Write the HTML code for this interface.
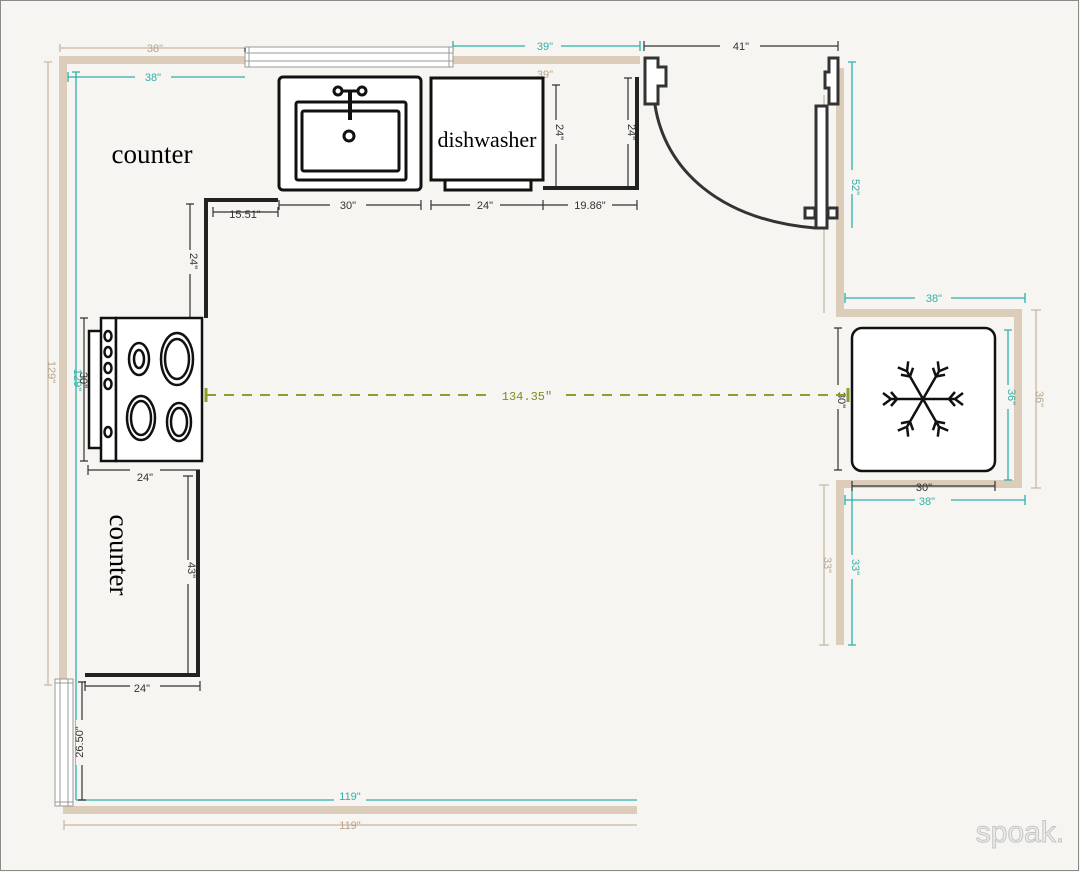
<!DOCTYPE html><html><head><style>body{margin:0;background:#f6f5f1}svg{display:block}text{font-family:"Liberation Sans",sans-serif}</style></head><body>
<svg width="1080" height="872" viewBox="0 0 1080 872">
<rect width="1080" height="872" fill="#f6f5f1"/>
<rect x="0.5" y="0.5" width="1078" height="870" fill="none" stroke="#8a8a8a"/>
<g stroke="#dccdbb" stroke-width="8" fill="none">
<path d="M640 60H63V680"/><path d="M63 810H637"/>
<path d="M840 68V313H1018V484H840V645"/>
</g>
<!-- beige dims -->
<g stroke="#c9b8a4" stroke-width="1.3" fill="none">
<path d="M60 48H245M60 44v8M48 62V685M44 62h8M44 685h8M64 825H637M64 820v10M824 95V313M1036 310V488M1031 310h10M1031 488h10M824 485V645M819 485h10M819 645h10"/>
</g>
<g fill="#b9a48c" font-size="11" text-anchor="middle">
<text x="155" y="52">38"</text><text x="350" y="829">119"</text>
<text transform="translate(48,372) rotate(90)">129"</text>
<text transform="translate(1036,399) rotate(90)">36"</text>
<text transform="translate(824,565) rotate(90)">33"</text>
<text x="545" y="78">39"</text>
</g>
<!-- teal dims -->
<g stroke="#2fb0ab" stroke-width="1.3" fill="none">
<path d="M68 77H245M68 72v10M76 72V800M72 72h8M76 800H637M453 46H640M453 41v10M640 41v10M852 62V228M848 62h8M845 298H1025M845 293v10M1025 293v10M1008 330V480M1004 330h8M1004 480h8M845 500H1025M845 495v10M1025 495v10M852 490V645M848 645h8"/>
</g>
<g fill="#2fb0ab" font-size="11" text-anchor="middle">
<rect x="135" y="70" width="36" height="12" fill="#f6f5f1"/><text x="153" y="81">38"</text>
<rect x="525" y="40" width="36" height="12" fill="#f6f5f1"/><text x="545" y="50">39"</text>
<rect x="334" y="793" width="32" height="12" fill="#f6f5f1"/><text x="350" y="800">119"</text>
<rect x="915" y="292" width="36" height="12" fill="#f6f5f1"/><text x="934" y="302">38"</text>
<rect x="915" y="494" width="36" height="12" fill="#f6f5f1"/><text x="927" y="505">38"</text>
<rect x="846" y="170" width="12" height="24" fill="#f6f5f1"/><text transform="translate(852,187) rotate(90)">52"</text>
<rect x="1002" y="385" width="12" height="24" fill="#f6f5f1"/><text transform="translate(1008,397) rotate(90)">36"</text>
<rect x="846" y="555" width="12" height="24" fill="#f6f5f1"/><text transform="translate(852,567) rotate(90)">33"</text>
<text transform="translate(74,380) rotate(90)">129"</text>
</g>
<!-- windows -->
<g fill="#fff" stroke="#999" stroke-width="1">
<rect x="245" y="47" width="208" height="20"/><path d="M245 53H453M245 61H453M249 47V67M449 47V67" fill="none"/>
<rect x="55" y="679" width="18" height="127"/><path d="M60 679V806M68 679V806M55 683H73M55 802H73" fill="none"/>
</g>
<!-- dark dims -->
<g stroke="#333" stroke-width="1.2" fill="none">
<path d="M245 48V52M279 205H421M279 200v10M421 200v10M431 205H543M431 200v10M543 205H637M637 200v10M543 200v10M213 212H278M213 207v10M278 207v10M190 204V318M186 204h8M556 85V188M552 85h8M628 78V188M624 78h8M644 46H838M644 41v10M838 41v10M88 470H200M88 465v10M188 476V675M183 476h10M85 686H200M85 681v10M200 681v10M82 682V800M78 682h8M78 800h8M84 318V461M80 318h8M80 461h8M838 328V470M834 328h8M834 470h8M852 486H995M852 481v10M995 481v10"/>
</g>
<g fill="#333" font-size="11" text-anchor="middle">
<rect x="330" y="198" width="36" height="12" fill="#f6f5f1"/><text x="348" y="209">30"</text>
<rect x="470" y="198" width="30" height="12" fill="#f6f5f1"/><text x="485" y="209">24"</text>
<rect x="568" y="198" width="44" height="12" fill="#f6f5f1"/><text x="590" y="209">19.86"</text>
<text x="245" y="218">15.51"</text>
<rect x="720" y="40" width="40" height="12" fill="#f6f5f1"/><text x="741" y="50">41"</text>
<rect x="130" y="464" width="30" height="12" fill="#f6f5f1"/><text x="145" y="481">24"</text>
<rect x="130" y="680" width="30" height="12" fill="#f6f5f1"/><text x="142" y="692">24"</text>
<rect x="184" y="250" width="12" height="24" fill="#f6f5f1"/><text transform="translate(190,261) rotate(90)">24"</text>
<rect x="550" y="120" width="12" height="24" fill="#f6f5f1"/><text transform="translate(556,132) rotate(90)">24"</text>
<rect x="622" y="120" width="12" height="24" fill="#f6f5f1"/><text transform="translate(628,132) rotate(90)">24"</text>
<rect x="182" y="560" width="12" height="24" fill="#f6f5f1"/><text transform="translate(188,570) rotate(90)">43"</text>
<rect x="76" y="720" width="12" height="45" fill="#f6f5f1"/><text transform="translate(83,742) rotate(-90)">26.50"</text>
<text transform="translate(80,380) rotate(90)">30"</text>
<rect x="832" y="385" width="12" height="24" fill="#f6f5f1"/><text transform="translate(838,400) rotate(90)">30"</text>
<text x="924" y="491">30"</text>
</g>
<!-- counters -->
<g stroke="#222" stroke-width="4" fill="none">
<path d="M278 200H206V318"/><path d="M543 188H637V77"/>
<path d="M198 470V675H85"/>
</g>
<!-- sink -->
<g stroke="#111" stroke-width="3" fill="#fff">
<rect x="279" y="77" width="142" height="113" rx="4"/>
<rect x="296" y="102" width="110" height="78" rx="2"/>
<rect x="302" y="111" width="97" height="60" rx="2"/>
<path d="M350 90V120" fill="none" stroke-width="4"/>
<circle cx="338" cy="91" r="4"/><circle cx="362" cy="91" r="4"/><path d="M342 91H358"/>
<circle cx="349" cy="136" r="5"/>
</g>
<!-- dishwasher -->
<g stroke="#111" stroke-width="3" fill="#fff">
<rect x="431" y="78" width="112" height="102"/><rect x="445" y="180" width="86" height="10"/>
</g>
<text x="487" y="147" font-family="Liberation Serif,serif" font-size="22" text-anchor="middle" style="font-family:'Liberation Serif',serif">dishwasher</text>
<text x="152" y="163" font-size="27" text-anchor="middle" style="font-family:'Liberation Serif',serif">counter</text>
<text transform="translate(110,555) rotate(90)" font-size="27" text-anchor="middle" style="font-family:'Liberation Serif',serif">counter</text>
<!-- door -->
<g stroke="#333" stroke-width="3" fill="#fff">
<path d="M645 58H658V67H666V86H658V104H645Z"/>
<path d="M838 58H829V72H825V88H829V104H838Z"/>
<rect x="816" y="106" width="11" height="122"/>
<rect x="805" y="208" width="10" height="10"/><rect x="828" y="208" width="9" height="10"/>
<path d="M655 105C665 170 720 220 815 228" fill="none"/>
</g>
<!-- stove -->
<g stroke="#111" stroke-width="2.5" fill="#fff">
<rect x="89" y="331" width="13" height="117"/>
<rect x="101" y="318" width="15" height="143"/>
<rect x="116" y="318" width="86" height="143"/>
<g fill="none"><ellipse cx="108" cy="336" rx="3.5" ry="5"/><ellipse cx="108" cy="352" rx="3.5" ry="5"/><ellipse cx="108" cy="368" rx="3.5" ry="5"/><ellipse cx="108" cy="384" rx="3.5" ry="5"/><ellipse cx="108" cy="432" rx="3.5" ry="5"/>
<ellipse cx="139" cy="359" rx="10" ry="16"/><ellipse cx="139" cy="359" rx="5" ry="9"/>
<ellipse cx="177" cy="359" rx="16" ry="26"/><ellipse cx="177" cy="359" rx="12" ry="20"/>
<ellipse cx="141" cy="418" rx="14" ry="22"/><ellipse cx="141" cy="418" rx="10" ry="17"/>
<ellipse cx="179" cy="422" rx="12" ry="19"/><ellipse cx="179" cy="422" rx="8" ry="14"/></g>
</g>
<!-- fridge -->
<rect x="852" y="328" width="143" height="143" rx="10" fill="#fff" stroke="#111" stroke-width="2.5"/>
<g stroke="#111" stroke-width="2.5" fill="none" transform="translate(923,399)">
<g id="a"><path d="M-32 0H32M-32 0l-8-6M-32 0l-8 6M32 0l8-6M32 0l8 6M-26 0l-6-7M-26 0l-6 7M26 0l6-7M26 0l6 7"/></g>
<use href="#a" transform="rotate(60)"/><use href="#a" transform="rotate(120)"/>
</g>
<!-- green line -->
<path d="M206 395H848" stroke="#8ba02c" stroke-width="2" stroke-dasharray="10 8"/>
<path d="M206 388v14M848 388v14" stroke="#8ba02c" stroke-width="3"/>
<rect x="490" y="389" width="70" height="13" fill="#f6f5f1"/>
<text x="527" y="400" font-size="12" fill="#7a8f1e" text-anchor="middle" style="font-family:'Liberation Mono',monospace">134.35"</text>
<text x="1020" y="842" font-size="30" fill="#eee" stroke="#c4c4c4" stroke-width="1" text-anchor="middle">spoak.</text>
</svg></body></html>
